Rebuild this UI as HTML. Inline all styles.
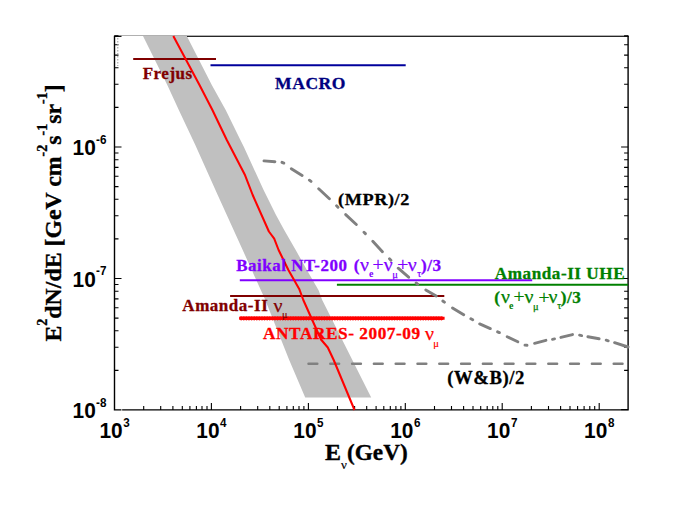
<!DOCTYPE html>
<html><head><meta charset="utf-8"><title>chart</title>
<style>
html,body{margin:0;padding:0;background:#fff;}
svg{display:block;}
text{font-family:"Liberation Serif",serif;font-weight:bold;}
.tk{font-family:"Liberation Sans",sans-serif;font-weight:bold;font-size:22px;fill:#000;}
.sp{font-size:12.3px;}
.nu{font-weight:normal;}
</style></head><body>
<svg width="692" height="509" viewBox="0 0 692 509">
<rect width="692" height="509" fill="#fff"/>
<polygon points="143,36 167.3,85 178.8,110 195.3,145 217.7,195 242.7,250 265.3,300 289.2,360 305.2,397.6 371.2,397.6 322.2,300 318.7,290.5 306.9,270 295.7,250 284.2,230 276,215 263.6,190 243.9,147.1 240.4,140 225.7,110 211.8,85 186.8,36" fill="#c0c0c0"/>
<!-- axes -->
<path d="M187 36.4H628.7" stroke="#000" stroke-width="0.95" fill="none"/>
<path d="M114 35.5H628.7" stroke="#b0b0b0" stroke-width="1" fill="none"/>
<path d="M114.5 35.8V410.6M113.8 409.9H628.8M628.1 35.8V410.6" stroke="#000" stroke-width="1.4" fill="none"/>
<path d="M114.5 36.4h7" stroke="#000" stroke-width="1.1"/>
<path d="M628.1 409.6h-7" stroke="#000" stroke-width="1.1"/>
<path d="M121.7 408.5v3" stroke="#fff" stroke-width="0.7"/>
<path d="M114.5 370.4h4M628.1 370.4h-4M114.5 347.3h4M628.1 347.3h-4M114.5 330.8h4M628.1 330.8h-4M114.5 318.1h4M628.1 318.1h-4M114.5 307.7h4M628.1 307.7h-4M114.5 298.9h4M628.1 298.9h-4M114.5 291.2h4M628.1 291.2h-4M114.5 284.5h4M628.1 284.5h-4M114.5 278.5h7M628.1 278.5h-7M114.5 238.9h4M628.1 238.9h-4M114.5 215.8h4M628.1 215.8h-4M114.5 199.3h4M628.1 199.3h-4M114.5 186.6h4M628.1 186.6h-4M114.5 176.2h4M628.1 176.2h-4M114.5 167.4h4M628.1 167.4h-4M114.5 159.7h4M628.1 159.7h-4M114.5 153.0h4M628.1 153.0h-4M114.5 147.0h7M628.1 147.0h-7M114.5 107.4h4M628.1 107.4h-4M114.5 84.3h4M628.1 84.3h-4M114.5 67.8h4M628.1 67.8h-4M114.5 55.1h4M628.1 55.1h-4M114.5 44.7h4M628.1 44.7h-4M114.5 35.9h4M628.1 35.9h-4M143.7 410.0v-4M160.7 410.0v-4M172.9 410.0v-4M182.3 410.0v-4M189.9 410.0v-4M196.4 410.0v-4M202.0 410.0v-4M207.0 410.0v-4M211.4 410.0v-7M240.6 410.0v-4M257.7 410.0v-4M269.8 410.0v-4M279.2 410.0v-4M286.9 410.0v-4M293.3 410.0v-4M299.0 410.0v-4M303.9 410.0v-4M308.4 410.0v-7M337.5 410.0v-4M354.6 410.0v-4M366.7 410.0v-4M376.1 410.0v-4M383.8 410.0v-4M390.3 410.0v-4M395.9 410.0v-4M400.9 410.0v-4M405.3 410.0v-7M434.5 410.0v-4M451.5 410.0v-4M463.6 410.0v-4M473.0 410.0v-4M480.7 410.0v-4M487.2 410.0v-4M492.8 410.0v-4M497.8 410.0v-4M502.2 410.0v-7M531.4 410.0v-4M548.5 410.0v-4M560.6 410.0v-4M570.0 410.0v-4M577.6 410.0v-4M584.1 410.0v-4M589.8 410.0v-4M594.7 410.0v-4M599.2 410.0v-7" stroke="#000" stroke-width="1.1" fill="none"/>
<path d="M117.8 38V66" stroke="#999" stroke-width="1" stroke-dasharray="1.5 1.5" fill="none"/>
<!-- curves -->
<path d="M308.5 363.8H628" stroke="#808080" stroke-width="2.5" stroke-dasharray="8.8 13" stroke-linecap="round" fill="none"/>
<path d="M133.2 59H216" stroke="#800000" stroke-width="1.9"/>
<path d="M210.5 65.3H405.7" stroke="#00009c" stroke-width="2"/>
<path d="M239.8 280.3H532.2" stroke="#8000ff" stroke-width="2"/>
<path d="M336.9 284.7H628" stroke="#008000" stroke-width="2.1"/>
<path d="M230.1 296H444.3" stroke="#800000" stroke-width="1.8"/>
<path d="M239.4 318.3H444.6" stroke="#ff0000" stroke-width="3.0"/>
<path d="M241.2 318.3H443.5" stroke="#ff0000" stroke-width="4.2" stroke-dasharray="0 2.6" stroke-linecap="round"/>
<polyline points="173.3,36 199.5,85 212.4,110 226.8,140 245.1,175.3 252.7,195 268.9,231.5 274.2,238.6 278.6,250 288.4,270 299.2,288.9 303.3,300 321,339.5 327.8,347.5 333.7,360 354.5,410" fill="none" stroke="#ff0000" stroke-width="2.05" stroke-linejoin="round"/>
<!-- labels -->
<text transform="translate(142.65 78.5) scale(1 0.965)" font-size="17.00" letter-spacing="0.53" fill="#800000" stroke="#800000" stroke-width="0.3">Frejus</text>
<text transform="translate(275.05 88.8) scale(1 0.965)" font-size="17.57" letter-spacing="0.55" fill="#000080" stroke="#000080" stroke-width="0.3">MACRO</text>
<text transform="translate(338.05 204.6) scale(1 0.965)" font-size="18.24" letter-spacing="0.57" fill="#000" stroke="#000" stroke-width="0.3">(MPR)/2</text>
<text transform="translate(447.15 383.6) scale(1 0.965)" font-size="18.72" letter-spacing="0.59" fill="#000" stroke="#000" stroke-width="0.3">(W&amp;B)/2</text>
<text transform="translate(236.25 270.7) scale(1 0.965)" font-size="16.95" letter-spacing="0.53" fill="#7f00ff" stroke="#7f00ff" stroke-width="0.3">Baikal NT-200</text>
<text transform="translate(353.75 270.7) scale(1 0.965)" font-size="17.19" letter-spacing="0.54" fill="#7f00ff" stroke="#7f00ff" stroke-width="0.3">(</text><text x="359.9" y="270.7" font-size="19.8" style="font-weight:normal" fill="#7f00ff" stroke="#7f00ff" stroke-width="0.25">ν</text><text x="369.0" y="277.1" font-size="10" style="font-weight:bold" fill="#7f00ff" >e</text><text x="372.6" y="270.7" font-size="19.5" style="font-weight:normal" fill="#7f00ff" stroke="#7f00ff" stroke-width="0.25">+</text><text x="383.7" y="270.7" font-size="19.8" style="font-weight:normal" fill="#7f00ff" stroke="#7f00ff" stroke-width="0.25">ν</text><text x="392.3" y="277.5" font-size="10.4" style="font-weight:normal" fill="#7f00ff" stroke="#7f00ff" stroke-width="0.25">μ</text><text x="397.2" y="270.7" font-size="19.5" style="font-weight:normal" fill="#7f00ff" stroke="#7f00ff" stroke-width="0.25">+</text><text x="407.8" y="270.7" font-size="19.8" style="font-weight:normal" fill="#7f00ff" stroke="#7f00ff" stroke-width="0.25">ν</text><text x="417.3" y="277.0" font-size="10" style="font-weight:normal" fill="#7f00ff" stroke="#7f00ff" stroke-width="0.25">τ</text><text transform="translate(421.05 270.7) scale(1 0.965)" font-size="17.19" letter-spacing="0.54" fill="#7f00ff" stroke="#7f00ff" stroke-width="0.3">)/3</text>
<text transform="translate(494.85 278.8) scale(1 0.965)" font-size="17.14" letter-spacing="0.54" fill="#008000" stroke="#008000" stroke-width="0.3">Amanda-II UHE</text>
<text transform="translate(494.15 302.6) scale(1 0.965)" font-size="17.19" letter-spacing="0.54" fill="#008000" stroke="#008000" stroke-width="0.3">(</text><text x="501.0" y="302.8" font-size="19.8" style="font-weight:normal" fill="#008000" stroke="#008000" stroke-width="0.25">ν</text><text x="509.1" y="309.3" font-size="10" style="font-weight:bold" fill="#008000" >e</text><text x="513.4" y="302.5" font-size="19.5" style="font-weight:normal" fill="#008000" stroke="#008000" stroke-width="0.25">+</text><text x="524.5" y="302.8" font-size="19.8" style="font-weight:normal" fill="#008000" stroke="#008000" stroke-width="0.25">ν</text><text x="533.1" y="309.6" font-size="10.4" style="font-weight:normal" fill="#008000" stroke="#008000" stroke-width="0.25">μ</text><text x="538.6" y="304.3" font-size="19.5" style="font-weight:normal" fill="#008000" stroke="#008000" stroke-width="0.25">+</text><text x="548.6" y="302.8" font-size="19.8" style="font-weight:normal" fill="#008000" stroke="#008000" stroke-width="0.25">ν</text><text x="557.3" y="309.1" font-size="10" style="font-weight:normal" fill="#008000" stroke="#008000" stroke-width="0.25">τ</text><text transform="translate(560.75 302.6) scale(1 0.965)" font-size="17.19" letter-spacing="0.54" fill="#008000" stroke="#008000" stroke-width="0.3">)/3</text>
<text transform="translate(182.35 311.4) scale(1 0.965)" font-size="17.00" letter-spacing="0.53" fill="#800000" stroke="#800000" stroke-width="0.3">Amanda-II</text>
<text x="273.5" y="311.5" font-size="19.8" fill="#800000" stroke="#800000" stroke-width="0.25" style="font-weight:normal">ν</text>
<text x="282" y="318.3" font-size="10.2" fill="#800000" stroke="#800000" stroke-width="0.2" style="font-weight:normal">μ</text>
<text transform="translate(263.05 339.3) scale(1 0.965)" font-size="17.29" letter-spacing="0.54" fill="#ff0000" stroke="#ff0000" stroke-width="0.3">ANTARES- 2007-09</text>
<text x="424.9" y="339.65" font-size="19.8" fill="#ff0000" stroke="#ff0000" stroke-width="0.25" style="font-weight:normal">ν</text>
<text x="433.3" y="346.6" font-size="10.5" fill="#ff0000" stroke="#ff0000" stroke-width="0.2" style="font-weight:normal">μ</text>
<path d="M264.0 160.9L274.9 161.7M291.3 168.7L302.1 175.4M318.7 188.7L329.4 198.8M345.7 214.6L356.3 224.5M372.8 241.3L382.4 251.7M398.2 268.2L408.6 277.2M425.8 290.0L436.2 296.0M452.5 307.9L463.7 314.7M479.7 323.9L490.3 328.6M507.2 336.7L517.8 341.8M534.6 343.3L545.9 340.3M560.9 337.4L572.5 334.6M587.9 336.8L599.1 338.7M614.6 342.7L628.0 347.0M282.0 162.3L283.8 163.1M309.4 180.2L311.0 181.4M336.6 205.8L338.0 207.2M364.0 232.2L365.4 233.6M389.5 258.8L390.9 260.2M416.1 283.0L417.7 284.2M442.8 301.0L444.4 302.2M470.9 318.8L472.7 319.8M497.6 331.8L499.4 332.6M525.0 345.1L527.0 345.3M552.5 339.3L554.5 338.9M579.6 335.2L581.6 335.6M606.2 340.2L608.2 340.8" fill="none" stroke="#808080" stroke-width="2.9" stroke-linecap="round"/>
<!-- tick labels -->
<text transform="translate(99.4 438.4) scale(0.95 1)" class="tk">10<tspan class="sp" dy="-11.5" dx="0.6">3</tspan></text><text transform="translate(196.3 438.4) scale(0.95 1)" class="tk">10<tspan class="sp" dy="-11.5" dx="0.6">4</tspan></text><text transform="translate(293.3 438.4) scale(0.95 1)" class="tk">10<tspan class="sp" dy="-11.5" dx="0.6">5</tspan></text><text transform="translate(390.2 438.4) scale(0.95 1)" class="tk">10<tspan class="sp" dy="-11.5" dx="0.6">6</tspan></text><text transform="translate(487.1 438.4) scale(0.95 1)" class="tk">10<tspan class="sp" dy="-11.5" dx="0.6">7</tspan></text><text transform="translate(584.1 438.4) scale(0.95 1)" class="tk">10<tspan class="sp" dy="-11.5" dx="0.6">8</tspan></text>
<text transform="translate(72.6 155.2) scale(0.95 1)" class="tk">10<tspan class="sp" dy="-11.5" dx="0.3">-6</tspan></text><text transform="translate(72.6 286.7) scale(0.95 1)" class="tk">10<tspan class="sp" dy="-11.5" dx="0.3">-7</tspan></text><text transform="translate(72.6 418.2) scale(0.95 1)" class="tk">10<tspan class="sp" dy="-11.5" dx="0.3">-8</tspan></text>
<!-- axis titles -->
<text x="325" y="460" font-size="24" fill="#000" stroke="#000" stroke-width="0.35">E<tspan font-size="13" dy="8.5" class="nu" stroke-width="0.2">ν</tspan></text><text transform="translate(347.0 460) scale(0.97 1)" font-size="24" fill="#000" stroke="#000" stroke-width="0.35">(GeV)</text>
<text transform="translate(61.3 341.5) rotate(-90)" font-size="23.8" fill="#000" stroke="#000" stroke-width="0.35">E<tspan font-size="14" dy="-14.2">2</tspan><tspan dy="14.2">dN/dE [GeV cm</tspan><tspan font-size="14" dy="-14.2">-2</tspan><tspan dy="14.2">s</tspan><tspan font-size="14" dy="-14.2">-1</tspan><tspan dy="14.2">sr</tspan><tspan font-size="14" dy="-14.2">-1</tspan><tspan dy="14.2">]</tspan></text>
</svg>
</body></html>
